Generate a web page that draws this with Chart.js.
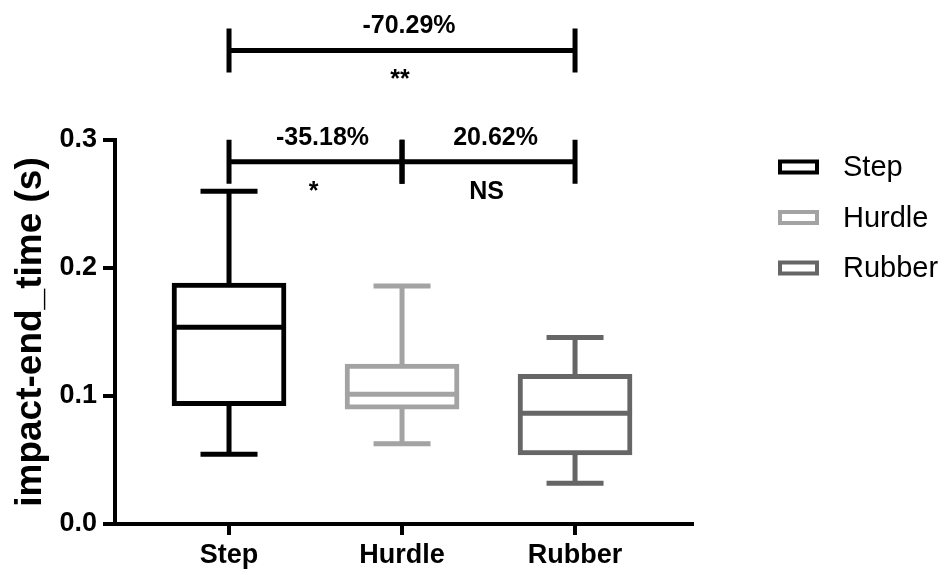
<!DOCTYPE html>
<html>
<head>
<meta charset="utf-8">
<script src="https://cdn.jsdelivr.net/npm/chart.js@4.4.1/dist/chart.umd.min.js"></script>
<style>
  html, body { margin: 0; padding: 0; background: #fff; }
  #wrap { width: 949px; height: 575px; }
</style>
</head>
<body>
<div id="wrap"><canvas id="box-chart" width="949" height="575"></canvas></div>
<script>
const GROUPS = ['Step', 'Hurdle', 'Rubber'];
const GROUP_POS = [1, 2, 3];
const GROUP_COLORS = ['#000000', '#a3a3a3', '#666666'];

// box edges (q1 / q3), medians and whisker ends
const Q1 = [0.0924, 0.0898, 0.0539];
const Q3 = [0.1883, 0.1250, 0.1170];
const MEDIANS = [0.1538, 0.1014, 0.0865];
const WHISKER_LOW = [0.0545, 0.0627, 0.0318];
const WHISKER_HIGH = [0.2600, 0.1860, 0.1458];

const Y_TICKS = [0, 0.1, 0.2, 0.3];

// comparison brackets above the boxes
const CMP_FROM = [1, 1, 2];
const CMP_TO = [3, 2, 3];
const CMP_LEVEL = [0.370, 0.283, 0.283];
const CMP_DIFF = ['-70.29%', '-35.18%', '20.62%'];
const CMP_SIG = ['**', '*', 'NS'];

const FONT = '"Liberation Sans", Arial, Helvetica, sans-serif';
const BOX_WIDTH = 114;
const LINE_W = 5;

const boxParts = {
  id: 'boxParts',
  beforeDatasetsDraw(chart) {
    const { ctx, scales: { x, y } } = chart;
    ctx.save();
    ctx.lineCap = 'butt';
    GROUPS.forEach((name, i) => {
      const cx = x.getPixelForValue(GROUP_POS[i]);
      const capHalf = BOX_WIDTH / 4;
      ctx.strokeStyle = GROUP_COLORS[i];
      ctx.lineWidth = LINE_W;
      ctx.beginPath();
      ctx.moveTo(cx, y.getPixelForValue(Q3[i]));
      ctx.lineTo(cx, y.getPixelForValue(WHISKER_HIGH[i]));
      ctx.moveTo(cx, y.getPixelForValue(Q1[i]));
      ctx.lineTo(cx, y.getPixelForValue(WHISKER_LOW[i]));
      ctx.moveTo(cx - capHalf, y.getPixelForValue(WHISKER_HIGH[i]));
      ctx.lineTo(cx + capHalf, y.getPixelForValue(WHISKER_HIGH[i]));
      ctx.moveTo(cx - capHalf, y.getPixelForValue(WHISKER_LOW[i]));
      ctx.lineTo(cx + capHalf, y.getPixelForValue(WHISKER_LOW[i]));
      ctx.stroke();
    });
    ctx.restore();
  },
  afterDatasetsDraw(chart) {
    const { ctx, scales: { x, y } } = chart;
    ctx.save();
    GROUPS.forEach((name, i) => {
      const cx = x.getPixelForValue(GROUP_POS[i]);
      const half = BOX_WIDTH / 2;
      const my = y.getPixelForValue(MEDIANS[i]);
      ctx.strokeStyle = GROUP_COLORS[i];
      ctx.lineWidth = LINE_W;
      ctx.beginPath();
      ctx.moveTo(cx - half, my);
      ctx.lineTo(cx + half, my);
      ctx.stroke();
    });

    // brackets
    ctx.strokeStyle = '#000';
    ctx.fillStyle = '#000';
    ctx.lineWidth = LINE_W;
    CMP_FROM.forEach((from, i) => {
      const x1 = x.getPixelForValue(from);
      const x2 = x.getPixelForValue(CMP_TO[i]);
      const ly = y.getPixelForValue(CMP_LEVEL[i]);
      ctx.beginPath();
      ctx.moveTo(x1, ly);
      ctx.lineTo(x2, ly);
      ctx.moveTo(x1, ly - 22);
      ctx.lineTo(x1, ly + 22);
      ctx.moveTo(x2, ly - 22);
      ctx.lineTo(x2, ly + 22);
      ctx.stroke();

      const mid = (x1 + x2) / 2;
      ctx.textAlign = 'center';
      ctx.textBaseline = 'alphabetic';
      ctx.font = `bold 25px ${FONT}`;
      ctx.fillText(CMP_DIFF[i], mid + 7, ly - 17);
      ctx.fillText(CMP_SIG[i], mid - 2, ly + 37);
    });

    // legend
    ctx.textAlign = 'left';
    ctx.textBaseline = 'middle';
    ctx.font = `29px ${FONT}`;
    GROUPS.forEach((name, i) => {
      const rowY = 167 + i * 50.5;
      ctx.strokeStyle = GROUP_COLORS[i];
      ctx.lineWidth = 4;
      ctx.strokeRect(780, rowY - 5.5, 37, 11);
      ctx.fillStyle = '#000';
      ctx.fillText(name, 843, rowY + 1);
    });
    ctx.restore();
  }
};

new Chart(document.getElementById('box-chart').getContext('2d'), {
  type: 'bar',
  data: {
    datasets: GROUPS.map((name, i) => ({
      label: name,
      data: [{ x: GROUP_POS[i], y: [Q1[i], Q3[i]] }],
      backgroundColor: '#ffffff',
      borderColor: GROUP_COLORS[i],
      borderWidth: LINE_W,
      borderSkipped: false,
      barThickness: BOX_WIDTH,
      grouped: false
    }))
  },
  options: {
    responsive: false,
    animation: false,
    events: [],
    layout: { padding: { top: 140, right: 257, left: 0, bottom: 0 } },
    plugins: {
      legend: { display: false },
      tooltip: { enabled: false }
    },
    scales: {
      x: {
        type: 'linear',
        min: 0.341,
        max: 3.676,
        offset: false,
        afterBuildTicks: (scale) => { scale.ticks = GROUP_POS.map((v) => ({ value: v })); },
        afterFit: (scale) => { scale.height = 51; },
        ticks: {
          color: '#000',
          font: { family: FONT, size: 27, weight: 'bold' },
          padding: 4,
          maxRotation: 0,
          callback: (value) => GROUPS[GROUP_POS.indexOf(value)] || ''
        },
        grid: { offset: false, drawOnChartArea: false, drawTicks: true, tickLength: 11, color: '#000', lineWidth: 4 },
        border: { color: '#000', width: 4 }
      },
      y: {
        min: 0,
        max: 0.3,
        afterBuildTicks: (scale) => { scale.ticks = Y_TICKS.map((v) => ({ value: v })); },
        afterFit: (scale) => { scale.width = 115; },
        ticks: {
          color: '#000',
          font: { family: FONT, size: 27, weight: 'bold' },
          padding: 6,
          callback: (value) => Number(value).toFixed(1)
        },
        title: {
          display: true,
          text: 'impact-end_time (s)',
          color: '#000',
          font: { family: FONT, size: 37, weight: 'bold' },
          padding: { top: 9, bottom: 0 }
        },
        grid: { drawOnChartArea: false, drawTicks: true, tickLength: 12, color: '#000', lineWidth: 4 },
        border: { color: '#000', width: 4 }
      }
    }
  },
  plugins: [boxParts]
});
</script>
</body>
</html>
